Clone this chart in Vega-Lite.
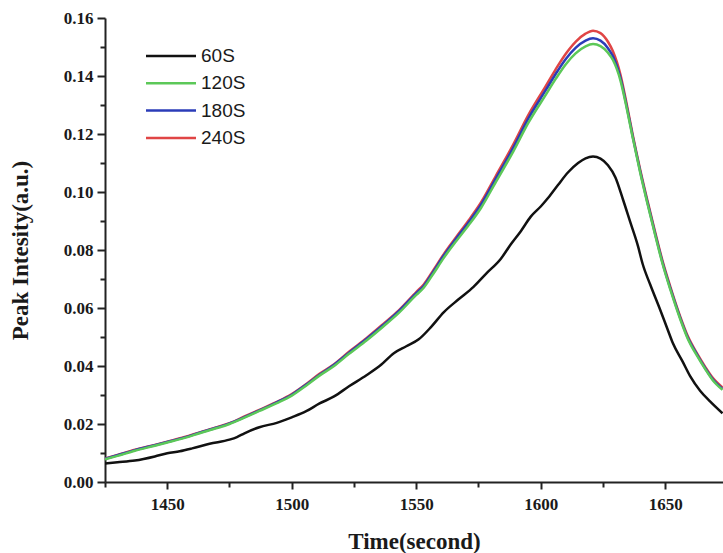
{
  "$schema": "https://vega.github.io/schema/vega-lite/v6.json",
  "autosize": "none",
  "width": 618,
  "height": 464,
  "padding": {"left": 105, "top": 18, "right": 0, "bottom": 71},
  "background": "#ffffff",
  "config": {"view": {"stroke": null}},
  "data": {"values": [
    {"t":1425,"s":"60S","v":0.0064},{"t":1430,"s":"60S","v":0.0068},{"t":1437,"s":"60S","v":0.0074},{"t":1445,"s":"60S","v":0.0088},{"t":1450,"s":"60S","v":0.0099},{"t":1455,"s":"60S","v":0.0106},{"t":1460,"s":"60S","v":0.0116},{"t":1467,"s":"60S","v":0.0132},{"t":1475,"s":"60S","v":0.0146},{"t":1478,"s":"60S","v":0.0155},{"t":1481,"s":"60S","v":0.0168},{"t":1487,"s":"60S","v":0.0189},{"t":1494,"s":"60S","v":0.0204},{"t":1500,"s":"60S","v":0.0223},{"t":1506,"s":"60S","v":0.0245},{"t":1511,"s":"60S","v":0.0270},{"t":1517,"s":"60S","v":0.0295},{"t":1523,"s":"60S","v":0.0330},{"t":1530,"s":"60S","v":0.0368},{"t":1536,"s":"60S","v":0.0405},{"t":1541,"s":"60S","v":0.0444},{"t":1546,"s":"60S","v":0.0468},{"t":1551,"s":"60S","v":0.0492},{"t":1556,"s":"60S","v":0.0535},{"t":1561,"s":"60S","v":0.0585},{"t":1567,"s":"60S","v":0.0630},{"t":1573,"s":"60S","v":0.0673},{"t":1578,"s":"60S","v":0.0718},{"t":1584,"s":"60S","v":0.0770},{"t":1588,"s":"60S","v":0.0820},{"t":1592,"s":"60S","v":0.0865},{"t":1596,"s":"60S","v":0.0915},{"t":1600,"s":"60S","v":0.0950},{"t":1603,"s":"60S","v":0.0980},{"t":1607,"s":"60S","v":0.1025},{"t":1611,"s":"60S","v":0.1068},{"t":1615,"s":"60S","v":0.1100},{"t":1618,"s":"60S","v":0.1116},{"t":1621,"s":"60S","v":0.1122},{"t":1624,"s":"60S","v":0.1115},{"t":1627,"s":"60S","v":0.1092},{"t":1630,"s":"60S","v":0.1050},{"t":1633,"s":"60S","v":0.0975},{"t":1636,"s":"60S","v":0.0895},{"t":1639,"s":"60S","v":0.0815},{"t":1641,"s":"60S","v":0.0750},{"t":1644,"s":"60S","v":0.0680},{"t":1648,"s":"60S","v":0.0593},{"t":1651,"s":"60S","v":0.0525},{"t":1653,"s":"60S","v":0.0480},{"t":1657,"s":"60S","v":0.0415},{"t":1660,"s":"60S","v":0.0365},{"t":1664,"s":"60S","v":0.0315},{"t":1668,"s":"60S","v":0.0278},{"t":1673,"s":"60S","v":0.0237},
    {"t":1425,"s":"240S","v":0.0081},{"t":1430,"s":"240S","v":0.0093},{"t":1437,"s":"240S","v":0.0111},{"t":1445,"s":"240S","v":0.0128},{"t":1450,"s":"240S","v":0.0139},{"t":1457,"s":"240S","v":0.0155},{"t":1463,"s":"240S","v":0.0171},{"t":1470,"s":"240S","v":0.0189},{"t":1475,"s":"240S","v":0.0203},{"t":1481,"s":"240S","v":0.0226},{"t":1487,"s":"240S","v":0.0249},{"t":1494,"s":"240S","v":0.0276},{"t":1500,"s":"240S","v":0.0303},{"t":1506,"s":"240S","v":0.0339},{"t":1511,"s":"240S","v":0.0372},{"t":1517,"s":"240S","v":0.0406},{"t":1523,"s":"240S","v":0.0449},{"t":1530,"s":"240S","v":0.0496},{"t":1537,"s":"240S","v":0.0547},{"t":1543,"s":"240S","v":0.0592},{"t":1550,"s":"240S","v":0.0655},{"t":1553,"s":"240S","v":0.0681},{"t":1557,"s":"240S","v":0.0732},{"t":1561,"s":"240S","v":0.0785},{"t":1566,"s":"240S","v":0.0844},{"t":1571,"s":"240S","v":0.0902},{"t":1576,"s":"240S","v":0.0964},{"t":1582,"s":"240S","v":0.1056},{"t":1589,"s":"240S","v":0.1164},{"t":1595,"s":"240S","v":0.1265},{"t":1602,"s":"240S","v":0.1365},{"t":1606,"s":"240S","v":0.1423},{"t":1610,"s":"240S","v":0.1476},{"t":1614,"s":"240S","v":0.1518},{"t":1618,"s":"240S","v":0.1546},{"t":1621,"s":"240S","v":0.1556},{"t":1624,"s":"240S","v":0.1548},{"t":1627,"s":"240S","v":0.1518},{"t":1629,"s":"240S","v":0.1485},{"t":1632,"s":"240S","v":0.1405},{"t":1634.5,"s":"240S","v":0.1304},{"t":1637,"s":"240S","v":0.1195},{"t":1640,"s":"240S","v":0.1075},{"t":1643,"s":"240S","v":0.0965},{"t":1646,"s":"240S","v":0.0860},{"t":1649,"s":"240S","v":0.0760},{"t":1652,"s":"240S","v":0.0675},{"t":1656,"s":"240S","v":0.0571},{"t":1659,"s":"240S","v":0.0504},{"t":1663,"s":"240S","v":0.0440},{"t":1666,"s":"240S","v":0.0398},{"t":1669,"s":"240S","v":0.0360},{"t":1673,"s":"240S","v":0.0326},
    {"t":1425,"s":"180S","v":0.0080},{"t":1430,"s":"180S","v":0.0092},{"t":1437,"s":"180S","v":0.0110},{"t":1445,"s":"180S","v":0.0127},{"t":1450,"s":"180S","v":0.0138},{"t":1457,"s":"180S","v":0.0154},{"t":1463,"s":"180S","v":0.0170},{"t":1470,"s":"180S","v":0.0188},{"t":1475,"s":"180S","v":0.0202},{"t":1481,"s":"180S","v":0.0224},{"t":1487,"s":"180S","v":0.0247},{"t":1494,"s":"180S","v":0.0275},{"t":1500,"s":"180S","v":0.0301},{"t":1506,"s":"180S","v":0.0337},{"t":1511,"s":"180S","v":0.0369},{"t":1517,"s":"180S","v":0.0404},{"t":1523,"s":"180S","v":0.0446},{"t":1530,"s":"180S","v":0.0493},{"t":1537,"s":"180S","v":0.0543},{"t":1543,"s":"180S","v":0.0589},{"t":1550,"s":"180S","v":0.0651},{"t":1553,"s":"180S","v":0.0676},{"t":1557,"s":"180S","v":0.0727},{"t":1561,"s":"180S","v":0.0780},{"t":1566,"s":"180S","v":0.0839},{"t":1571,"s":"180S","v":0.0895},{"t":1576,"s":"180S","v":0.0956},{"t":1582,"s":"180S","v":0.1047},{"t":1589,"s":"180S","v":0.1153},{"t":1595,"s":"180S","v":0.1253},{"t":1602,"s":"180S","v":0.1351},{"t":1606,"s":"180S","v":0.1407},{"t":1610,"s":"180S","v":0.1458},{"t":1614,"s":"180S","v":0.1497},{"t":1618,"s":"180S","v":0.1522},{"t":1621,"s":"180S","v":0.1530},{"t":1624,"s":"180S","v":0.1522},{"t":1627,"s":"180S","v":0.1496},{"t":1629,"s":"180S","v":0.1468},{"t":1632,"s":"180S","v":0.1394},{"t":1634.5,"s":"180S","v":0.1296},{"t":1637,"s":"180S","v":0.1189},{"t":1640,"s":"180S","v":0.1069},{"t":1643,"s":"180S","v":0.0959},{"t":1646,"s":"180S","v":0.0854},{"t":1649,"s":"180S","v":0.0754},{"t":1652,"s":"180S","v":0.0669},{"t":1656,"s":"180S","v":0.0566},{"t":1659,"s":"180S","v":0.0499},{"t":1663,"s":"180S","v":0.0436},{"t":1666,"s":"180S","v":0.0393},{"t":1669,"s":"180S","v":0.0355},{"t":1673,"s":"180S","v":0.0321},
    {"t":1425,"s":"120S","v":0.0078},{"t":1430,"s":"120S","v":0.0090},{"t":1437,"s":"120S","v":0.0108},{"t":1445,"s":"120S","v":0.0125},{"t":1450,"s":"120S","v":0.0136},{"t":1457,"s":"120S","v":0.0152},{"t":1463,"s":"120S","v":0.0168},{"t":1470,"s":"120S","v":0.0186},{"t":1475,"s":"120S","v":0.0200},{"t":1481,"s":"120S","v":0.0222},{"t":1487,"s":"120S","v":0.0245},{"t":1494,"s":"120S","v":0.0272},{"t":1500,"s":"120S","v":0.0298},{"t":1506,"s":"120S","v":0.0334},{"t":1511,"s":"120S","v":0.0366},{"t":1517,"s":"120S","v":0.0400},{"t":1523,"s":"120S","v":0.0442},{"t":1530,"s":"120S","v":0.0488},{"t":1537,"s":"120S","v":0.0538},{"t":1543,"s":"120S","v":0.0583},{"t":1550,"s":"120S","v":0.0645},{"t":1553,"s":"120S","v":0.0670},{"t":1557,"s":"120S","v":0.0720},{"t":1561,"s":"120S","v":0.0772},{"t":1566,"s":"120S","v":0.0830},{"t":1571,"s":"120S","v":0.0885},{"t":1576,"s":"120S","v":0.0945},{"t":1582,"s":"120S","v":0.1035},{"t":1589,"s":"120S","v":0.1140},{"t":1595,"s":"120S","v":0.1238},{"t":1602,"s":"120S","v":0.1335},{"t":1606,"s":"120S","v":0.1390},{"t":1610,"s":"120S","v":0.1440},{"t":1614,"s":"120S","v":0.1478},{"t":1618,"s":"120S","v":0.1502},{"t":1621,"s":"120S","v":0.1510},{"t":1624,"s":"120S","v":0.1503},{"t":1627,"s":"120S","v":0.1480},{"t":1629,"s":"120S","v":0.1455},{"t":1632,"s":"120S","v":0.1385},{"t":1634.5,"s":"120S","v":0.1290},{"t":1637,"s":"120S","v":0.1185},{"t":1640,"s":"120S","v":0.1065},{"t":1643,"s":"120S","v":0.0955},{"t":1646,"s":"120S","v":0.0850},{"t":1649,"s":"120S","v":0.0750},{"t":1652,"s":"120S","v":0.0665},{"t":1656,"s":"120S","v":0.0562},{"t":1659,"s":"120S","v":0.0495},{"t":1663,"s":"120S","v":0.0432},{"t":1666,"s":"120S","v":0.0390},{"t":1669,"s":"120S","v":0.0352},{"t":1673,"s":"120S","v":0.0318}
  ]},
  "resolve": {"axis": {"x": "independent", "y": "independent"}},
  "layer": [
    {
      "mark": {"type": "line", "opacity": 0},
      "encoding": {
        "x": {"field": "t", "type": "quantitative", "scale": {"domain": [1425, 1673.2], "nice": false, "zero": false},
          "axis": {"orient": "bottom", "values": [1425, 1475, 1525, 1575, 1625], "labels": false, "domain": false, "grid": false, "title": null, "tickSize": 5, "tickWidth": 2, "tickColor": "#222"}},
        "y": {"field": "v", "type": "quantitative", "scale": {"domain": [0, 0.16], "nice": false},
          "axis": {"orient": "left", "values": [0.01, 0.03, 0.05, 0.07, 0.09, 0.11, 0.13, 0.15], "labels": false, "domain": false, "grid": false, "title": null, "tickSize": 5, "tickWidth": 2, "tickColor": "#222"}},
        "detail": {"field": "s", "type": "nominal"}
      }
    },
    {
      "mark": {"type": "line", "strokeWidth": 2.5, "interpolate": "monotone", "clip": true},
      "encoding": {
        "x": {"field": "t", "type": "quantitative",
          "axis": {"orient": "bottom", "values": [1450, 1500, 1550, 1600, 1650], "format": "d", "grid": false,
            "domainColor": "#222", "domainWidth": 2, "tickColor": "#222", "tickWidth": 2, "tickSize": 7,
            "labelFont": "Liberation Serif", "labelFontWeight": "bold", "labelFontSize": 17, "labelColor": "#1a1a1a", "labelPadding": 7,
            "title": "Time(second)", "titleFont": "Liberation Serif", "titleFontWeight": "bold", "titleFontSize": 23, "titleColor": "#1a1a1a",
            "titleY": 66, "titleBaseline": "alphabetic"}},
        "y": {"field": "v", "type": "quantitative",
          "axis": {"orient": "left", "values": [0, 0.02, 0.04, 0.06, 0.08, 0.1, 0.12, 0.14, 0.16], "format": ".2f", "grid": false,
            "domainColor": "#222", "domainWidth": 2, "tickColor": "#222", "tickWidth": 2, "tickSize": 8,
            "labelFont": "Liberation Serif", "labelFontWeight": "bold", "labelFontSize": 17, "labelColor": "#1a1a1a", "labelPadding": 4,
            "title": "Peak Intesity(a.u.)", "titleFont": "Liberation Serif", "titleFontWeight": "bold", "titleFontSize": 23, "titleColor": "#1a1a1a",
            "titleX": -73, "titleBaseline": "bottom"}},
        "color": {"field": "s", "type": "nominal",
          "scale": {"domain": ["60S", "120S", "180S", "240S"], "range": ["#111111", "#5cc858", "#2b3cb8", "#e04545"]},
          "legend": {"title": null, "orient": "none", "legendX": 52, "legendY": 24, "symbolType": "M-2,0L2,0", "symbolSize": 625, "symbolStrokeWidth": 2.5,
            "labelFont": "Liberation Sans", "labelFontSize": 19, "labelColor": "#1a1a1a", "labelOffset": 16, "rowPadding": 3.3, "padding": 0}}
      }
    }
  ]
}
